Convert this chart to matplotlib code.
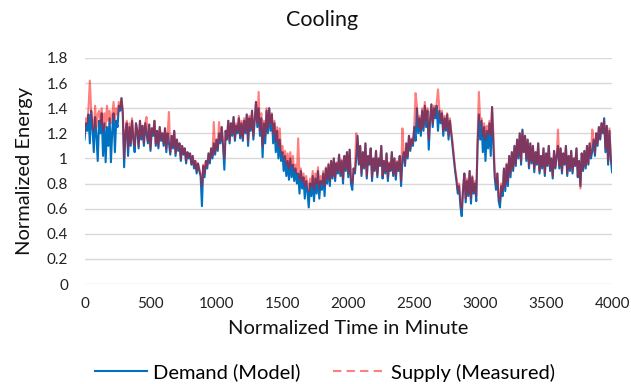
import numpy as np
import matplotlib
matplotlib.use("Agg")
from matplotlib import pyplot as plt
from matplotlib.lines import Line2D

STEP = 10  # minutes between readings

# Demand (Model), one row = 200 minutes
demand = [
    1.15, 1.28, 1.22, 1.35, 1.12, 1.38, 1.25, 1.05, 1.33, 1.18, 0.98, 1.30, 1.20, 1.36, 1.02, 1.28, 0.97, 1.25, 1.10, 1.32,
    0.97, 1.22, 1.36, 1.05, 1.30, 1.25, 1.42, 1.38, 1.48, 1.35, 0.93, 1.20, 1.28, 1.02, 1.25, 1.10, 1.30, 1.15, 1.05, 1.28,
    1.22, 1.08, 1.30, 1.15, 1.26, 1.10, 1.28, 1.20, 1.12, 1.27, 1.06, 1.24, 1.18, 1.30, 1.10, 1.22, 1.08, 1.25, 1.14, 1.20,
    1.10, 1.24, 1.05, 1.20, 1.12, 1.03, 1.18, 1.08, 1.22, 1.02, 1.15, 1.06, 1.12, 0.98, 1.10, 1.03, 1.08, 0.96, 1.05, 1.00,
    1.04, 0.95, 1.02, 0.92, 0.98, 0.88, 0.96, 0.90, 0.86, 0.62, 0.94, 0.85, 0.98, 0.92, 1.04, 0.96, 1.08, 1.00, 1.12, 1.03,
    1.15, 1.06, 1.20, 1.12, 1.25, 1.10, 0.91, 1.22, 1.15, 1.30, 1.12, 1.28, 1.18, 1.33, 1.14, 1.26, 1.20, 1.32, 1.16, 1.28,
    1.14, 1.30, 1.20, 1.35, 1.10, 1.32, 1.22, 1.38, 1.15, 1.30, 1.45, 1.25, 1.40, 1.18, 1.32, 1.01, 1.28, 1.12, 1.38, 1.20,
    1.40, 1.22, 1.35, 1.12, 1.28, 1.05, 1.22, 1.00, 1.15, 0.98, 1.05, 0.90, 1.02, 0.86, 0.98, 0.83, 1.00, 0.85, 0.95, 0.82,
    0.92, 0.80, 0.88, 0.72, 0.90, 0.76, 0.85, 0.68, 0.82, 0.74, 0.61, 0.80, 0.70, 0.86, 0.66, 0.84, 0.72, 0.90, 0.68, 0.82,
    0.75, 0.88, 0.70, 0.92, 0.80, 0.95, 0.78, 0.98, 0.84, 1.00, 0.82, 0.96, 0.88, 1.03, 0.86, 0.98, 0.80, 1.02, 0.90, 1.05,
    0.85, 1.07, 0.80, 0.75, 0.92, 0.88, 1.00, 1.18, 0.95, 1.10, 0.86, 1.05, 0.92, 1.12, 0.84, 1.02, 0.95, 1.08, 0.82, 1.00,
    0.90, 1.06, 0.85, 1.00, 0.94, 1.10, 0.84, 0.98, 0.88, 1.04, 0.82, 0.96, 0.90, 1.05, 0.86, 1.00, 0.83, 0.97, 0.90, 1.02,
    0.78, 0.98, 1.05, 0.94, 1.12, 1.00, 1.18, 1.06, 1.15, 1.10, 1.25, 1.14, 1.40, 1.20, 1.32, 1.18, 1.38, 1.22, 1.42, 1.25,
    1.38, 1.07, 1.30, 1.43, 1.25, 1.40, 1.32, 1.42, 1.22, 1.38, 1.28, 1.36, 1.18, 1.32, 1.22, 1.35, 1.15, 1.30, 1.20, 1.10,
    1.00, 0.90, 0.82, 0.72, 0.78, 0.62, 0.54, 0.75, 0.88, 0.65, 0.82, 0.70, 0.90, 0.64, 0.85, 0.72, 0.80, 0.66, 1.10, 1.35,
    1.15, 1.30, 1.05, 1.25, 0.98, 1.22, 1.08, 1.28, 1.02, 1.41, 1.10, 0.85, 0.75, 0.88, 0.66, 0.61, 0.78, 0.70, 0.92, 0.74,
    0.95, 0.78, 1.02, 0.85, 1.05, 0.90, 1.10, 0.94, 1.15, 1.00, 1.20, 0.95, 1.23, 1.05, 1.18, 0.98, 1.15, 0.92, 1.12, 0.96,
    1.10, 0.89, 1.05, 0.95, 1.12, 0.88, 1.02, 0.92, 1.08, 0.86, 1.04, 0.94, 1.10, 0.90, 1.00, 0.84, 1.06, 0.92, 1.02, 1.10,
    0.92, 1.08, 0.88, 1.04, 0.95, 1.10, 0.86, 1.02, 0.90, 1.06, 0.88, 1.00, 0.94, 1.08, 0.85, 0.98, 0.78, 1.04, 0.90, 1.06,
    0.92, 1.10, 0.95, 1.12, 1.00, 1.06, 1.15, 1.02, 1.20, 1.10, 1.25, 1.15, 1.28, 1.20, 1.32, 1.05, 1.26, 0.95, 1.22, 1.00,
    0.89,
]

# Supply (Measured)
supply = [
    1.20, 1.32, 1.28, 1.40, 1.62, 1.38, 1.30, 1.22, 1.42, 1.25, 1.35, 1.38, 1.28, 1.40, 1.22, 1.36, 1.25, 1.42, 1.30, 1.38,
    1.28, 1.35, 1.45, 1.30, 1.40, 1.35, 1.45, 1.40, 1.48, 1.38, 1.00, 1.22, 1.30, 1.08, 1.28, 1.12, 1.32, 1.18, 1.10, 1.28,
    1.22, 1.10, 1.30, 1.18, 1.26, 1.12, 1.28, 1.33, 1.14, 1.27, 1.08, 1.24, 1.20, 1.30, 1.12, 1.22, 1.10, 1.25, 1.16, 1.20,
    1.12, 1.24, 1.08, 1.20, 1.37, 1.05, 1.18, 1.10, 1.22, 1.04, 1.15, 1.08, 1.12, 1.00, 1.10, 1.04, 1.08, 0.98, 1.05, 1.02,
    1.04, 0.96, 1.02, 0.94, 0.98, 0.90, 0.96, 0.92, 0.88, 0.78, 0.95, 0.88, 0.98, 0.94, 1.04, 0.98, 1.08, 1.02, 1.29, 1.05,
    1.15, 1.08, 1.29, 1.14, 1.25, 1.12, 1.00, 1.22, 1.16, 1.30, 1.14, 1.28, 1.20, 1.33, 1.16, 1.28, 1.22, 1.34, 1.18, 1.30,
    1.16, 1.32, 1.22, 1.35, 1.14, 1.34, 1.24, 1.38, 1.18, 1.32, 1.45, 1.28, 1.53, 1.22, 1.36, 1.10, 1.30, 1.18, 1.40, 1.24,
    1.40, 1.28, 1.36, 1.20, 1.30, 1.14, 1.25, 1.10, 1.24, 1.05, 1.10, 1.00, 1.06, 0.95, 1.04, 0.92, 1.05, 0.94, 1.02, 0.90,
    0.95, 0.88, 1.16, 0.84, 0.92, 0.82, 0.88, 0.78, 0.86, 0.80, 0.74, 0.84, 0.78, 0.90, 0.75, 0.88, 0.80, 0.93, 0.76, 0.86,
    0.80, 0.90, 0.78, 0.93, 0.84, 0.96, 0.82, 0.98, 0.86, 1.00, 0.85, 0.97, 0.90, 1.03, 0.88, 0.99, 0.84, 1.02, 0.92, 1.05,
    0.88, 1.07, 0.84, 0.80, 0.92, 0.90, 1.20, 1.15, 0.96, 1.10, 0.88, 1.05, 0.93, 1.12, 0.86, 1.02, 0.96, 1.08, 0.85, 1.00,
    0.91, 1.06, 0.87, 1.00, 0.95, 1.10, 0.86, 0.98, 0.90, 1.04, 0.85, 0.97, 0.91, 1.05, 0.88, 1.00, 0.86, 0.98, 0.91, 1.02,
    0.82, 1.24, 1.05, 0.96, 1.12, 1.02, 1.18, 1.08, 1.16, 1.12, 1.26, 1.52, 1.42, 1.25, 1.34, 1.22, 1.40, 1.25, 1.45, 1.30,
    1.40, 1.15, 1.32, 1.43, 1.28, 1.42, 1.34, 1.44, 1.55, 1.40, 1.30, 1.38, 1.22, 1.34, 1.24, 1.36, 1.18, 1.32, 1.22, 1.14,
    1.02, 0.92, 0.85, 0.75, 0.80, 0.66, 0.60, 0.76, 0.88, 0.68, 0.84, 0.72, 0.90, 0.68, 0.86, 0.74, 0.82, 0.70, 1.15, 1.53,
    1.30, 1.32, 1.18, 1.28, 1.15, 1.26, 1.20, 1.30, 1.18, 1.41, 1.20, 0.90, 0.80, 0.88, 0.70, 0.66, 0.80, 0.74, 0.92, 0.78,
    0.96, 0.82, 1.02, 0.88, 1.05, 0.92, 1.10, 0.96, 1.15, 1.02, 1.20, 0.98, 1.22, 1.05, 1.18, 1.00, 1.15, 0.94, 1.12, 0.98,
    1.10, 0.92, 1.05, 0.96, 1.12, 0.90, 1.02, 0.94, 1.08, 0.88, 1.04, 0.95, 1.10, 0.92, 1.00, 0.86, 1.06, 0.93, 1.02, 1.23,
    0.94, 1.08, 0.90, 1.04, 0.96, 1.10, 0.88, 1.02, 0.92, 1.06, 0.90, 1.00, 0.95, 1.08, 0.86, 0.98, 0.76, 1.04, 0.92, 1.06,
    0.94, 1.10, 0.96, 1.12, 1.02, 1.23, 1.15, 1.04, 1.20, 1.12, 1.25, 1.16, 1.28, 1.22, 1.30, 1.08, 1.26, 0.98, 1.24, 1.02,
    0.95,
]

x_ticks = [0, 500, 1000, 1500, 2000, 2500, 3000, 3500, 4000]
y_ticks = [0, 0.2, 0.4, 0.6, 0.8, 1, 1.2, 1.4, 1.6, 1.8]
y_labels = ["0", "0.2", "0.4", "0.6", "0.8", "1", "1.2", "1.4", "1.6", "1.8"]

plt.rcParams['font.family'] = ['Lato', 'DejaVu Sans']

fig = plt.figure(figsize=(6.31, 3.84), dpi=100)
ax = fig.add_axes([0.134, 0.2604, 0.836, 0.5886])

blue = "#0070C0"
t_demand = np.arange(len(demand)) * STEP
t_supply = np.arange(len(supply)) * STEP
ax.plot(t_demand, demand, color=blue, lw=1.5, zorder=3)
ax.plot(t_supply, supply, color="#FF0000", alpha=0.5, lw=1.5, zorder=4)

ax.set_xlim(0, 4000)
ax.set_ylim(0, 1.8)
ax.set_xticks(x_ticks)
ax.set_yticks(y_ticks)
ax.set_yticklabels(y_labels)
ax.tick_params(length=0, labelsize=11, colors="#222222")
ax.tick_params(axis='y', pad=12)
ax.tick_params(axis='x', pad=9)
ax.grid(axis='y', color="#D9D9D9", lw=1)
ax.set_axisbelow(True)
for s in ax.spines.values():
    s.set_visible(False)

fig.text(0.51, 0.948, "Cooling", ha='center', va='center', fontsize=15.5, color="#111111")
ax.set_xlabel("Normalized Time in Minute", fontsize=14.5, color="#111111", labelpad=7)
ax.set_ylabel("Normalized Energy", fontsize=14.5, color="#111111", labelpad=10)

handles = [Line2D([], [], color=blue, lw=1.5),
           Line2D([], [], color="#FF0000", alpha=0.5, lw=1.5, ls=(0, (4, 2.5)))]
fig.legend(handles, ["Demand (Model)", "Supply (Measured)"], loc='center',
           bbox_to_anchor=(0.515, 0.03), ncol=2, frameon=False, fontsize=14.5,
           handlelength=2.6, columnspacing=1.6, handletextpad=0.3)

fig.savefig("out.png", dpi=100)
